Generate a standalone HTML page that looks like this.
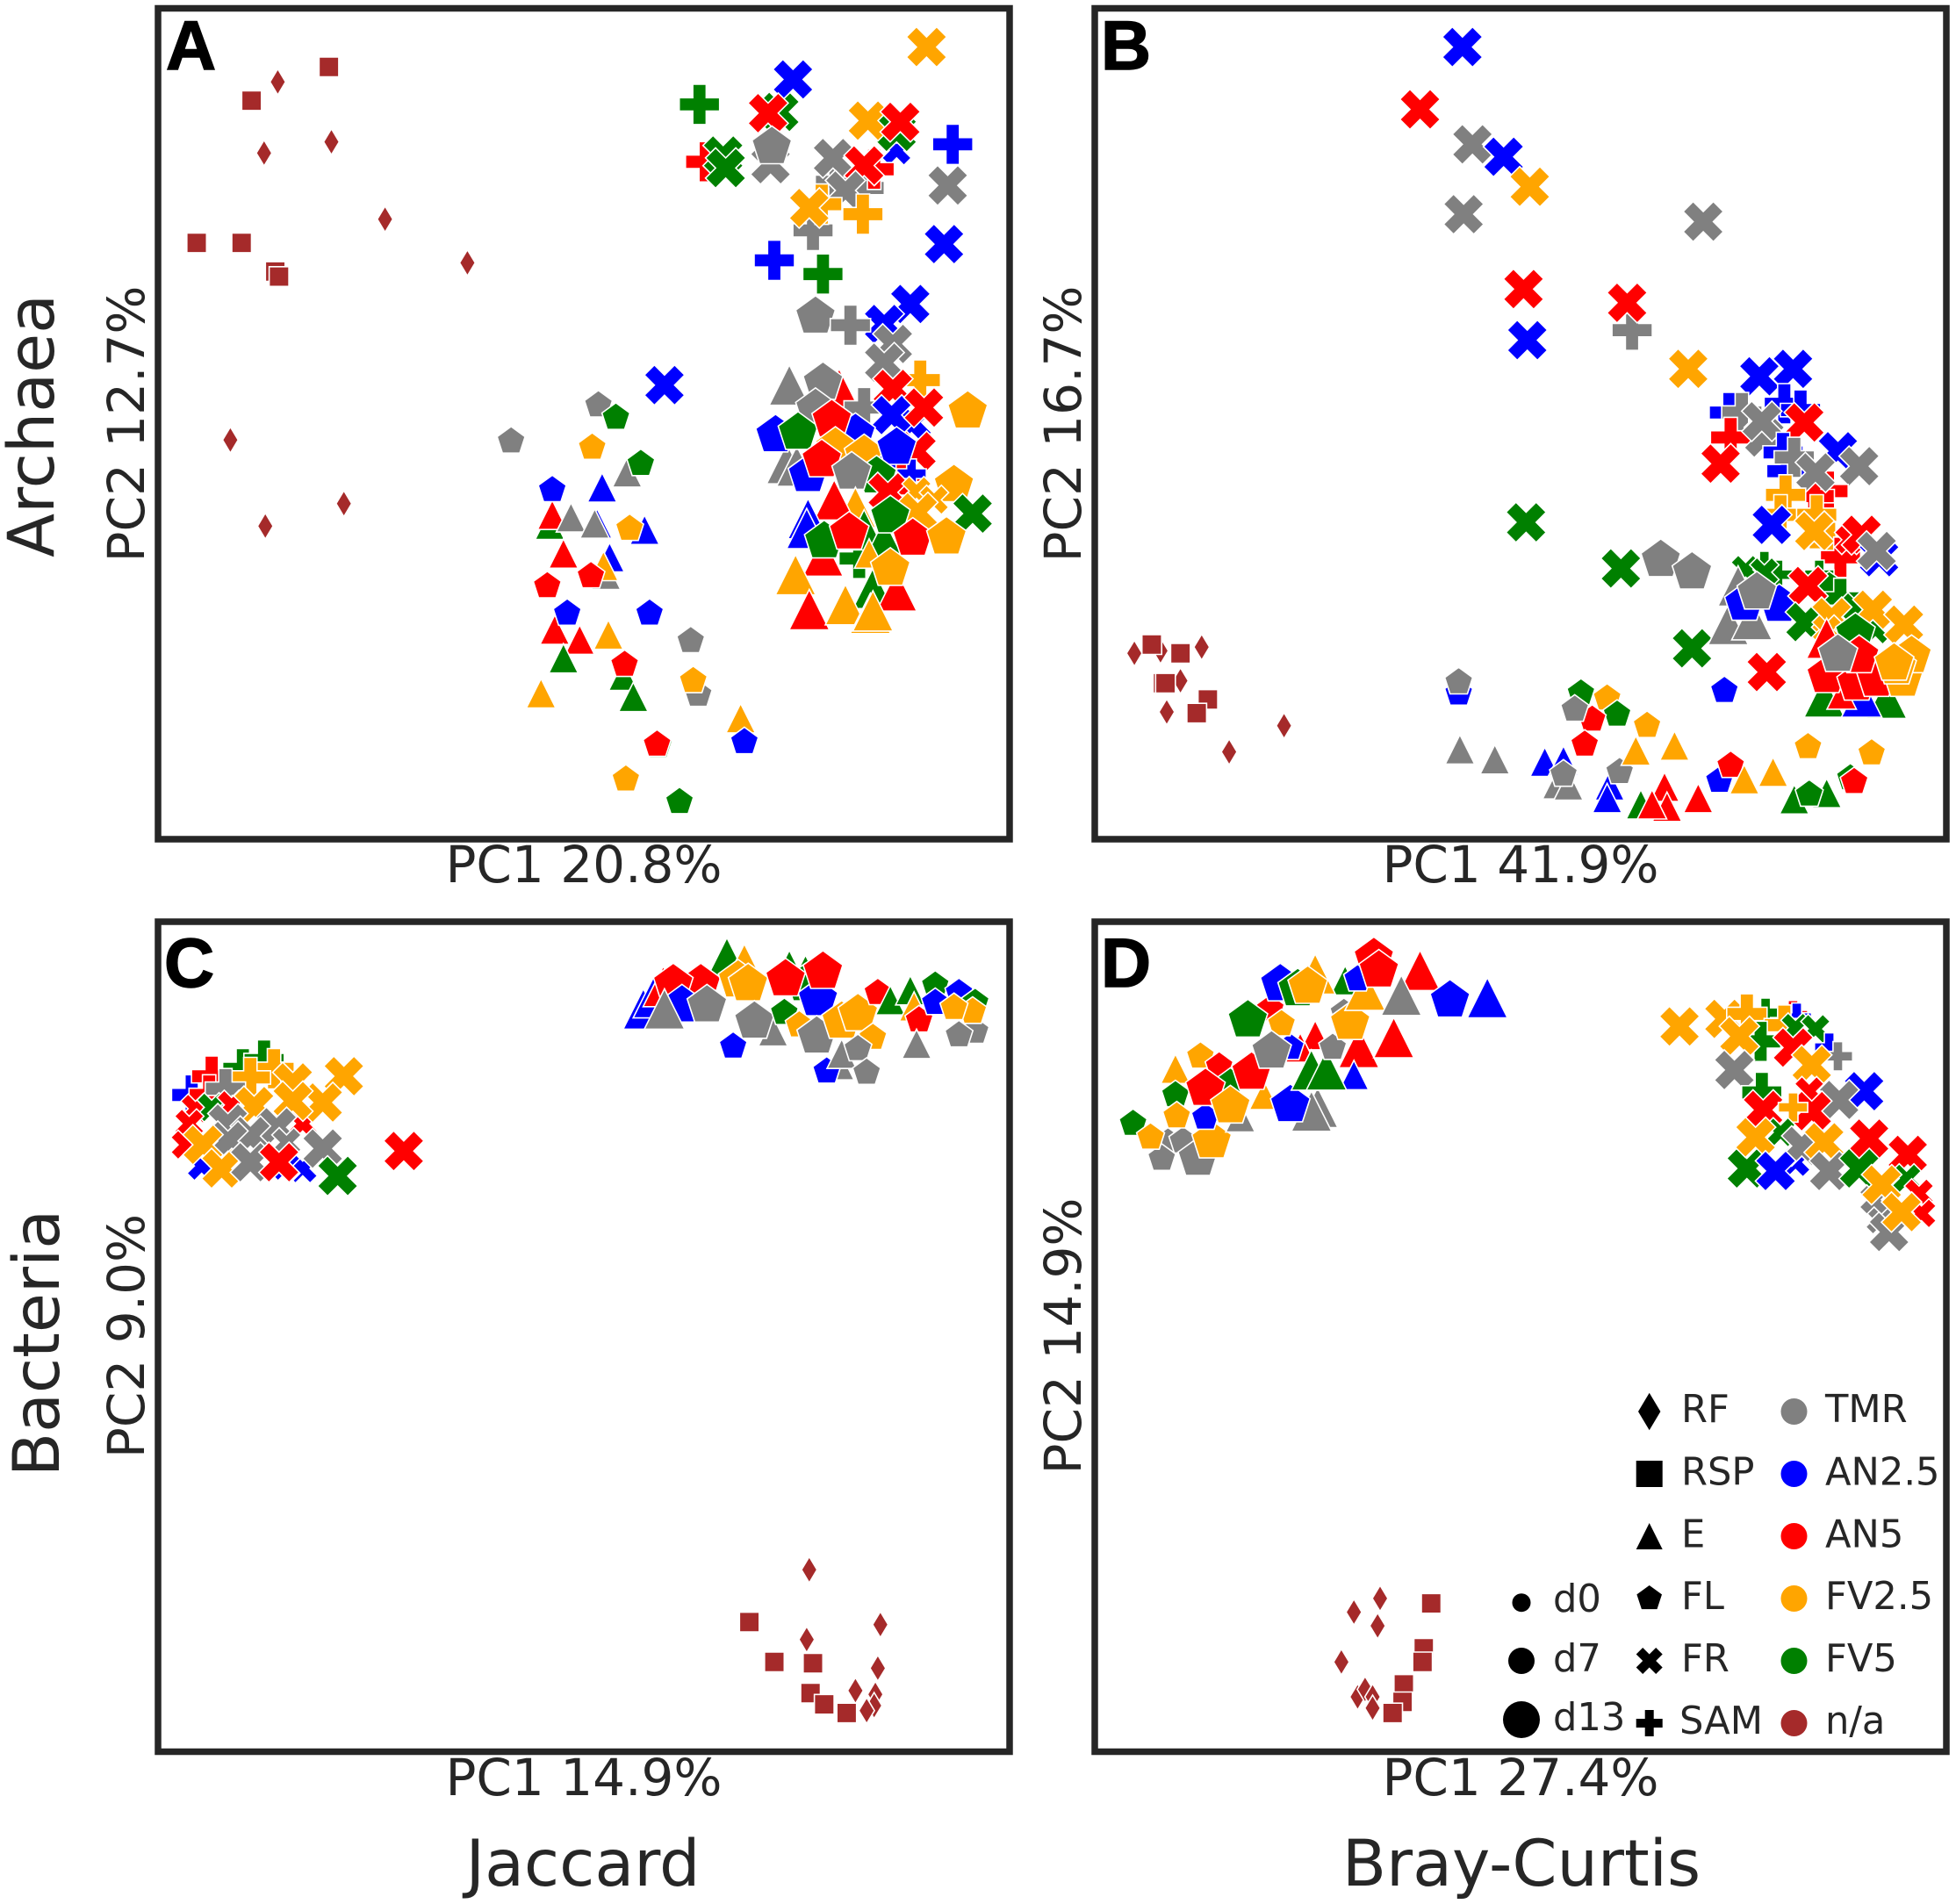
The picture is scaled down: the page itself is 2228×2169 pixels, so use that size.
<!DOCTYPE html>
<html lang="en">
<head>
<meta charset="utf-8">
<title>PCoA of Archaea and Bacteria communities</title>
<style>
html,body{margin:0;padding:0;background:#fff;}
svg{display:block;}
text{font-family:"DejaVu Sans","Liberation Sans",sans-serif;fill:#262626;}
.axis-label{font-size:58px;text-anchor:middle;}
.big-label{font-size:73.2px;text-anchor:middle;}
.panel-letter{font-family:"Liberation Sans",sans-serif;font-weight:700;font-size:79px;fill:#000;stroke:#000;stroke-width:1.5px;}
.legend-text{font-size:43.2px;}
</style>
</head>
<body>
<svg id="chart" xmlns="http://www.w3.org/2000/svg" width="2228" height="2169" viewBox="0 0 2228 2169">
  <rect x="0" y="0" width="2228" height="2169" fill="#fff"/>
  <g id="marks"></g>
  <g fill="none" stroke="#262626" stroke-width="7.5">
    <rect x="180" y="9.5" width="970" height="946.5"/>
    <rect x="1247" y="9.5" width="970" height="946.5"/>
    <rect x="180" y="1050" width="970" height="945.5"/>
    <rect x="1247" y="1050" width="970" height="945.5"/>
  </g>
  <text class="panel-letter" x="189" y="79">A</text>
  <text class="panel-letter" x="1254" y="79">B</text>
  <text class="panel-letter" x="187" y="1124">C</text>
  <text class="panel-letter" x="1254" y="1124">D</text>

  <text class="axis-label" x="665" y="1005">PC1 20.8%</text>
  <text class="axis-label" x="1732" y="1005">PC1 41.9%</text>
  <text class="axis-label" x="665" y="2045">PC1 14.9%</text>
  <text class="axis-label" x="1732" y="2045">PC1 27.4%</text>

  <text class="axis-label" transform="translate(164 483) rotate(-90)">PC2 12.7%</text>
  <text class="axis-label" transform="translate(1231 483) rotate(-90)">PC2 16.7%</text>
  <text class="axis-label" transform="translate(164 1522) rotate(-90)">PC2 9.0%</text>
  <text class="axis-label" transform="translate(1231 1522) rotate(-90)">PC2 14.9%</text>

  <text class="big-label" transform="translate(61 485) rotate(-90)">Archaea</text>
  <text class="big-label" transform="translate(67 1530) rotate(-90)">Bacteria</text>
  <text class="big-label" x="664" y="2148">Jaccard</text>
  <text class="big-label" x="1733" y="2148">Bray-Curtis</text>

  <g id="legend"></g>
</svg>
<script>
// Categories
const markerTypes = ['RF','RSP','E','FL','FR','SAM'];
const dietTypes = ['TMR','AN2.5','AN5','FV2.5','FV5','n/a'];
const dayTypes = [0,7,13];
const dietColors = {'TMR':'#808080','AN2.5':'#0000ff','AN5':'#ff0000','FV2.5':'#ffa500','FV5':'#008000','n/a':'#a52a2a'};

// Samples: [fraction, diet, day, PC1 score, PC2 score] — scores in arbitrary units
const samplesA = [
['RSP','n/a',0,137,619],['RSP','n/a',0,75,592],['RSP','n/a',0,31,478],['RSP','n/a',0,67,478],['RSP','n/a',0,94,455],['RSP','n/a',0,97,451],
['RF','n/a',0,96,607],['RF','n/a',0,139,559],['RF','n/a',0,85,550],['RF','n/a',0,182,497],['RF','n/a',0,248,462],['RF','n/a',0,58,320],['RF','n/a',0,149,269],['RF','n/a',0,86,251],
['E','TMR',7,376,294],['FL','TMR',7,283,319],['FL','TMR',7,353,348],['FL','FV5',7,367,338],['FL','FV2.5',7,348,314],['FL','FV5',7,387,301],
['E','AN2.5',7,356,282],['E','FV5',7,314,252],['E','AN5',7,316,260],['E','TMR',7,331,258],['E','AN2.5',7,352,253],['E','TMR',7,350,253],['E','AN2.5',7,390,248],['E','AN5',7,325,229],['E','AN2.5',7,362,226],['E','TMR',7,359,212],['E','FV2.5',7,357,219],['E','AN5',7,318,168],['E','AN5',7,338,160],['E','FV2.5',7,361,164],['E','FV5',7,325,145],['E','FV5',7,373,131],['E','FV5',7,381,114],['E','FV2.5',7,307,117],['E','FV2.5',7,467,97],
['FL','AN2.5',7,316,280],['FL','FV2.5',7,378,249],['FL','AN5',7,347,211],['FL','AN5',7,312,203],['FL','AN2.5',7,328,181],['FL','AN2.5',7,394,181],['FL','TMR',7,427,159],['FL','AN5',7,374,140],['FL','TMR',7,433,116],['FL','FV2.5',7,429,127],['FL','FV5',7,401,75],['FL','AN5',7,400,76],['FL','AN2.5',7,470,78],['FL','FV2.5',7,375,48],['FL','FV5',7,418,30],
['FR','AN2.5',13,406,364],
['FR','FV2.5',13,616,635],['SAM','FV5',13,434,589],['FR','FV5',13,498,583],['FR','AN2.5',13,509,609],['FR','AN5',13,489,582],['FR','AN2.5',7,592,552],['FR','FV5',13,592,567],['FR','FV2.5',13,569,576],['FR','AN5',13,595,575],['SAM','AN2.5',13,637,557],['FR','TMR',13,491,541],['FL','TMR',13,492,555],['SAM','AN5',13,439,543],['FR','FV5',13,453,548],['FR','FV5',13,455,538],['SAM','TMR',13,566,522],['SAM','TMR',13,543,527],['SAM','AN5',13,574,537],['FR','TMR',13,541,546],['FR','AN5',13,566,540],['FR','TMR',13,551,520],['FR','TMR',13,633,524],['SAM','TMR',13,525,488],['SAM','FV2.5',13,532,509],['FR','FV2.5',13,522,506],['SAM','FV2.5',13,565,501],['FR','AN2.5',13,630,477],['SAM','AN2.5',13,494,464],['SAM','FV5',13,533,453],['FR','AN2.5',13,603,429],['FR','AN2.5',13,582,413],['FL','TMR',13,527,419],['SAM','TMR',13,555,412],
['E','AN5',13,546,361],['E','TMR',13,506,364],['FL','TMR',13,533,366],['FR','TMR',13,589,397],['FR','TMR',13,582,382],['SAM','FV2.5',13,611,368],['SAM','TMR',13,566,346],['FR','AN5',13,589,361],['FR','AN2.5',13,604,334],['FR','AN5',13,608,311],['FR','AN2.5',13,588,340],['FR','AN5',13,614,346],['FL','FV2.5',13,649,343],['E','TMR',13,504,301],['E','TMR',13,512,299],['FL','TMR',13,527,345],['FL','AN2.5',13,495,324],['FL','FV5',13,513,326],['FL','AN2.5',13,559,325],['FL','AN5',13,540,336],['FL','FV2.5',13,543,314],['FL','FV2.5',13,566,308],['E','AN2.5',13,585,303],['SAM','AN5',13,597,292],['SAM','AN2.5',7,604,293],['FL','AN2.5',13,592,314],['FL','AN2.5',13,521,292],['FL','AN5',13,532,304],['FL','FV5',13,576,291],['FL','TMR',13,556,294],['FR','AN5',13,585,278],['FL','FV2.5',13,638,284],['FR','FV2.5',7,608,279],['FR','FV2.5',7,622,272],['FR','FV2.5',13,609,262],['FR','FV5',13,653,261],['E','FV2.5',13,559,266],['E','AN5',13,542,272],['E','AN2.5',13,521,257],['E','AN2.5',13,520,249],['E','AN5',13,533,227],['SAM','FV5',13,562,225],['E','FV5',13,566,248],['E','FV5',13,582,240],['FL','FV5',13,534,239],['FL','AN5',13,554,246],['FL','FV5',13,587,259],['FL','AN5',13,605,241],['FL','FV2.5',13,632,242],['E','FV5',13,573,201],['E','AN5',13,592,199],['E','FV2.5',7,570,229],['FL','FV2.5',13,587,217],['E','FV2.5',13,511,212],['E','AN5',13,522,184],['E','FV2.5',13,551,188],['E','FV2.5',13,571,181],['E','FV2.5',13,573,183]
];

const samplesB = [
['RF','n/a',0,31,149],['RF','n/a',0,52,151],['RF','n/a',0,85,154],['RF','n/a',0,68,127],['RF','n/a',0,57,102],['RF','n/a',0,151,91],['RF','n/a',0,107,70],
['RSP','n/a',0,45,156],['RSP','n/a',0,68,149],['RSP','n/a',0,54,125],['RSP','n/a',0,56,125],['RSP','n/a',0,90,112],['RSP','n/a',0,81,101],
['FR','AN2.5',13,294,635],['FR','AN5',13,260,585],['FR','TMR',13,302,557],['FR','AN2.5',13,327,547],['FR','FV2.5',13,348,523],['FR','TMR',13,295,501],['FR','TMR',13,487,495],['FR','AN5',13,343,441],['SAM','TMR',13,430,408],['FR','AN5',13,426,430],['FR','AN2.5',13,346,400],['FR','FV2.5',13,475,377],['FR','AN2.5',13,532,371],['FR','AN2.5',13,559,377],['FR','FV5',13,345,254],['FR','FV5',13,421,217],['FL','TMR',13,453,224],['FL','TMR',13,478,214],['FR','FV5',13,478,153],['FR','AN5',13,538,134],['FL','AN2.5',7,504,119],
['SAM','AN2.5',13,508,342],['SAM','AN2.5',13,552,349],['SAM','AN2.5',13,565,344],['SAM','TMR',13,518,342],['SAM','AN5',13,509,322],['FR','AN5',13,501,301],['FR','TMR',13,536,322],['FR','TMR',13,534,335],['FR','AN5',13,568,334],['SAM','AN2.5',13,551,310],['FR','AN2.5',13,595,311],['SAM','AN2.5',13,554,295],['SAM','TMR',13,560,306],['FR','TMR',13,612,299],['SAM','AN5',13,587,279],['SAM','AN5',13,576,275],['FR','TMR',13,577,294],['SAM','FV2.5',13,553,276],['SAM','FV2.5',13,549,260],['SAM','FV2.5',13,578,260],['FR','AN2.5',13,542,252],['SAM','FV2.5',13,588,238],['FR','FV2.5',13,576,247],['SAM','AN5',13,597,226],['FR','AN5',7,604,240],['FR','AN5',13,614,244],['FR','AN2.5',13,628,226],['FR','TMR',13,626,231],
['SAM','FV5',7,536,219],['FR','FV5',7,521,216],['SAM','FV5',7,547,212],['FR','FV5',7,536,214],['E','TMR',13,515,203],['E','TMR',13,507,172],['E','TMR',13,526,176],['FL','AN2.5',13,520,189],['FL','AN2.5',13,548,188],['FL','TMR',13,530,198],['SAM','FV5',7,580,212],['FL','FV5',7,588,203],['SAM','FV5',13,597,193],['FR','AN5',13,571,203],['FR','FV5',13,569,174],['FR','FV5',7,609,186],['FR','FV2.5',13,590,178],['FR','FV2.5',7,586,168],['FR','FV5',7,625,168],['FR','FV2.5',13,623,184],['FR','FV2.5',13,648,172],['FL','FV5',13,609,165],['E','AN5',13,586,161],['E','FV5',13,584,114],['E','FV5',13,634,113],['E','AN2.5',13,614,114],['E','AN5',7,598,116],['FL','AN5',13,586,131],['FL','AN5',13,610,125],['FL','AN5',13,626,128],['FL','AN5',13,612,147],['FL','TMR',13,595,148],['FL','FV2.5',13,647,128],['FL','FV2.5',13,654,147],['FL','FV2.5',13,642,138],['FL','FV2.5',13,640,141],
['FL','AN2.5',7,291,117],['FL','TMR',7,291,126],['FL','FV5',7,389,117],['FL','FV2.5',7,410,113],['FL','FV5',7,418,100],['FL','AN5',7,398,96],['FL','TMR',7,384,104],['FL','FV2.5',7,442,91],['FL','AN5',7,392,76],['FL','FV2.5',7,571,74],['FL','FV2.5',7,622,69],['FL','AN2.5',7,500,47],['FL','AN5',7,509,59],
['E','TMR',7,292,72],['E','TMR',7,320,64],['E','AN2.5',7,360,62],['E','AN2.5',7,375,63],['E','TMR',7,370,44],['E','TMR',7,379,43],['FL','TMR',7,375,52],['E','AN2.5',7,412,43],['E','AN2.5',7,410,33],['FL','TMR',7,420,54],['E','FV2.5',7,433,71],['E','FV2.5',7,464,75],['E','FV5',7,437,28],['E','AN5',7,456,42],['E','AN5',7,458,26],['E','AN5',7,446,28],['E','AN5',7,483,33],['E','FV2.5',7,520,48],['E','FV2.5',7,543,54],['E','FV5',7,560,32],['E','FV5',7,586,37],['FL','FV5',7,572,36],['FL','FV5',7,605,49],['FL','AN5',7,608,46]
];

const samplesC = [
['E','AN2.5',13,389,596],['E','AN2.5',13,397,605],['E','AN5',13,405,614],['E','FV5',13,456,637],['E','FV2.5',13,470,632],['E','FV5',13,506,627],['E','FV5',13,519,623],['FL','AN5',13,435,616],['FL','AN5',13,413,616],['FL','AN2.5',13,420,599],['E','TMR',13,406,596],['FL','TMR',13,440,599],['FL','FV5',13,519,616],['FL','FV2.5',13,465,619],['FL','FV2.5',13,473,616],['FL','AN2.5',13,529,604],['FL','AN5',13,503,620],['FL','AN5',13,533,626],['E','TMR',7,493,578],['FL','TMR',13,478,586],['FL','FV5',7,502,593],['FL','FV2.5',7,514,583],['FL','TMR',13,528,574],['FL','FV2.5',13,548,586],['FL','FV2.5',13,561,592],['FL','AN5',7,577,609],['FL','FV2.5',7,573,573],['FL','AN2.5',7,461,566],['E','TMR',0,550,547],['FL','AN2.5',7,536,546],['E','TMR',7,548,560],['FL','TMR',7,561,564],['FL','TMR',7,568,545],['E','FV5',7,587,603],['E','FV5',7,603,611],['E','FV2.5',7,606,598],['FL','AN5',7,610,587],['E','TMR',7,608,568],['FL','FV5',7,623,615],['FL','AN2.5',7,623,601],['FL','AN2.5',7,642,609],['FL','FV5',7,655,601],['FL','TMR',7,655,578],['FL','TMR',7,642,575],['FL','FV2.5',7,653,594],['FL','FV2.5',7,638,597],
['SAM','AN2.5',13,27,527],['SAM','FV5',13,68,548],['SAM','FV5',13,85,555],['SAM','AN5',13,43,542],['SAM','FV2.5',13,93,548],['SAM','FV2.5',13,74,541],['FR','FV2.5',13,108,537],['FR','FV2.5',13,149,542],['SAM','AN5',13,41,527],['FR','AN5',7,30,516],['SAM','TMR',13,54,532],['FR','FV5',7,43,517],['FR','AN5',7,59,519],['FR','AN5',7,25,504],['FR','AN5',7,116,504],['FR','FV2.5',13,132,521],['FR','FV2.5',13,77,518],['FR','FV2.5',13,108,522],['FR','AN5',7,22,487],['FR','AN2.5',7,35,470],['FR','TMR',13,56,504],['FR','TMR',13,95,501],['FR','TMR',13,74,494],['FR','TMR',13,56,490],['FR','TMR',7,103,489],['FR','FV2.5',13,36,487],['FR','AN2.5',7,116,468],['FR','AN2.5',7,102,470],['FR','TMR',13,132,484],['FR','FV2.5',13,51,468],['FR','TMR',13,74,473],['FR','AN5',13,97,473],['FR','FV5',13,144,462],['FR','AN5',13,197,482],
['RF','n/a',0,522,146],['RF','n/a',0,579,102],['RF','n/a',0,520,90],['RF','n/a',0,577,67],['RF','n/a',0,559,49],['RF','n/a',0,575,46],['RF','n/a',0,574,37],['RF','n/a',0,568,33],
['RSP','n/a',0,474,104],['RSP','n/a',0,494,72],['RSP','n/a',0,525,71],['RSP','n/a',0,523,47],['RSP','n/a',0,534,38],['RSP','n/a',0,552,31]
];

const samplesD = [
['FL','FV5',7,30,504],['FL','TMR',7,58,489],['FL','TMR',7,53,476],['FL','TMR',7,70,490],['FL','FV2.5',7,44,493],['FL','TMR',13,82,476],['FL','FV2.5',13,93,490],['E','FV2.5',7,64,548],['FL','FV2.5',7,84,558],['FL','FV5',7,64,527],['FL','AN2.5',7,88,509],['FL','FV2.5',7,65,510],['FL','AN5',7,99,550],['FL','FV5',7,108,537],['E','TMR',7,116,509],['FL','AN5',13,88,532],['E','FV2.5',7,135,527],['FL','AN5',13,125,545],['FL','FV2.5',13,108,518],['E','TMR',13,178,517],['E','TMR',13,173,514],['FL','AN2.5',13,156,519],['E','AN5',7,176,575],['E','AN5',7,164,565],['FL','AN2.5',7,156,565],['E','AN5',13,211,565],['E','AN2.5',7,207,543],['E','FV5',13,173,547],['E','FV5',13,185,547],['FL','TMR',7,190,565],['FL','AN5',7,140,596],['FL','FV5',13,122,587],['FL','FV2.5',7,149,584],['FL','TMR',13,141,562],['E','AN5',13,239,573],['E','FV5',7,200,619],['FL','TMR',7,199,593],['FL','FV2.5',13,204,585],['E','FV2.5',13,216,611],['E','FV2.5',13,176,624],['FL','AN2.5',13,148,616],['FL','FV5',13,162,612],['FL','FV2.5',13,170,614],['E','AN5',13,260,627],['FL','AN5',13,223,637],['FL','AN2.5',7,210,620],['FL','AN5',13,227,627],['E','TMR',13,245,607],['FL','AN2.5',13,284,603],['E','AN2.5',13,314,605],
['FR','FV2.5',13,468,582],['SAM','FV5',7,537,593],['SAM','AN5',7,559,591],['SAM','AN2.5',7,562,589],['FR','FV2.5',13,504,588],['SAM','FV2.5',13,522,592],['SAM','FV2.5',13,552,583],['SAM','FV5',13,533,570],['FR','FV2.5',13,516,574],['FR','FV5',7,561,581],['FR','FV5',7,577,580],['SAM','AN2.5',7,588,565],['SAM','TMR',7,595,558],['FR','AN5',13,559,565],['FR','FV2.5',13,574,551],['FR','AN2.5',13,616,530],['FR','TMR',13,512,547],['SAM','FV5',13,534,529],['FR','AN5',7,572,530],['FR','TMR',13,596,523],['FR','AN5',13,574,514],['FR','AN5',13,535,515],['SAM','FV2.5',7,559,517],['FR','FV5',7,549,497],['FR','AN2.5',7,561,473],['FR','TMR',13,566,486],['FR','AN2.5',7,522,465],['FR','FV5',13,522,468],['FR','FV2.5',13,529,493],['FR','AN2.5',13,545,466],['FR','FV2.5',13,584,489],['FR','AN5',13,620,492],['FR','AN5',13,651,479],['FR','TMR',13,588,466],['FR','FV5',7,650,460],['FR','FV5',13,612,468],['FR','AN5',7,660,448],['FR','AN5',7,662,432],['FR','TMR',7,629,427],['FR','TMR',7,624,443],['FR','FV2.5',13,630,455],['FR','TMR',13,636,417],['FR','FV2.5',13,646,433],
['RF','n/a',0,228,123],['RF','n/a',0,207,112],['RF','n/a',0,226,101],['RF','n/a',0,197,72],['RF','n/a',0,210,44],['RF','n/a',0,216,50],['RF','n/a',0,222,44],['RF','n/a',0,222,35],
['RSP','n/a',0,269,119],['RSP','n/a',0,263,83],['RSP','n/a',0,262,72],['RSP','n/a',0,247,54],['RSP','n/a',0,246,40],['RSP','n/a',0,238,31]
];

// Axis score ranges shared by all panels (no tick labels in the figure)
const pc1Domain = [0,684];
const pc2Domain = [0,666];

const SVG_NS = 'http://www.w3.org/2000/svg';
const marksLayer = document.getElementById('marks');
const legendLayer = document.getElementById('legend');

function linearScale(domain, range){
  return function(v){ return range[0] + (v - domain[0]) / (domain[1] - domain[0]) * (range[1] - range[0]); };
}
function legendDotSize(day){ return day === 0 ? 21 : (day === 7 ? 30 : 42); }
function markerSize(day, type){
  if (type === 'RF') { return 21; }
  if (day === 0) { return 22.5; }
  if (day === 7) { return 33.5; }
  return type === 'FL' ? 47.5 : 46;
}

function polygonPoints(type, cx, cy, s){
  var pts = [];
  var h = s / 2;
  if (type === 'RF') { var d = s * 0.707; pts = [[0,-d],[d*0.6,0],[0,d],[-d*0.6,0]]; }
  else if (type === 'RSP') { pts = [[-h,-h],[h,-h],[h,h],[-h,h]]; }
  else if (type === 'E') { pts = [[0,-h],[h,h],[-h,h]]; }
  else if (type === 'FL') {
    for (var i = 0; i < 5; i++) { var a = -Math.PI/2 + i * 2 * Math.PI / 5; pts.push([h*Math.cos(a), h*Math.sin(a)]); }
  }
  else if (type === 'FR') {
    var u = s / 4;
    pts = [[-u,-2*u],[0,-u],[u,-2*u],[2*u,-u],[u,0],[2*u,u],[u,2*u],[0,u],[-u,2*u],[-2*u,u],[-u,0],[-2*u,-u]];
  }
  else {
    var t = s / 6;
    pts = [[-t,-3*t],[t,-3*t],[t,-t],[3*t,-t],[3*t,t],[t,t],[t,3*t],[-t,3*t],[-t,t],[-3*t,t],[-3*t,-t],[-t,-t]];
  }
  return pts.map(function(p){ return (cx + p[0]).toFixed(1) + ',' + (cy + p[1]).toFixed(1); }).join(' ');
}

function slug(s){ return String(s).toLowerCase().replace(/[^a-z0-9]+/g,'-'); }

function drawPanel(panelName, rows, left, right, top, bottom){
  var xAxis = linearScale(pc1Domain, [left, right]);
  var yAxis = linearScale(pc2Domain, [bottom, top]);
  var group = document.createElementNS(SVG_NS, 'g');
  
  
  rows.forEach(function(row){
    var el = document.createElementNS(SVG_NS, 'polygon');
    el.setAttribute('points', polygonPoints(row[0], xAxis(row[3]), yAxis(row[4]), markerSize(row[2], row[0])));
    el.setAttribute('fill', dietColors[row[1]]);
    el.setAttribute('stroke', '#ffffff');
    el.setAttribute('stroke-width', '1.6');
    el.setAttribute('stroke-linejoin', 'miter');
    
    
    group.appendChild(el);
  });
  marksLayer.appendChild(group);
}

drawPanel('a', samplesA, 180, 1152, 9.5, 956);
drawPanel('b', samplesB, 1248, 2220, 9.5, 956);
drawPanel('c', samplesC, 180, 1152, 1050, 1995.5);
drawPanel('d', samplesD, 1248, 2220, 1050, 1995.5);

// Legend
const legendRowCenters = [1608,1679,1750,1821,1892,1963];
const legendDayCenters = [1825.7,1892,1959];
const legendDayBaselines = [1836,1904,1971];
const legendBaselines = [1620,1691.7,1762.5,1833,1904,1975];

function addLegendText(label, x, y, name){
  var t = document.createElementNS(SVG_NS, 'text');
  t.setAttribute('class', 'legend-text');
  t.setAttribute('x', x);
  t.setAttribute('y', y);
  
  
  t.textContent = label;
  legendLayer.appendChild(t);
}

markerTypes.forEach(function(m, i){
  var el = document.createElementNS(SVG_NS, 'polygon');
  el.setAttribute('points', polygonPoints(m, 1878.7, legendRowCenters[i], 30));
  el.setAttribute('fill', '#000');
  
  
  legendLayer.appendChild(el);
  addLegendText(m, m === 'SAM' ? 1913 : 1915, legendBaselines[i], 'legend-label-' + slug(m));
});

dietTypes.forEach(function(d, i){
  var c = document.createElementNS(SVG_NS, 'circle');
  c.setAttribute('cx', 2043.5);
  c.setAttribute('cy', legendRowCenters[i]);
  c.setAttribute('r', 15);
  c.setAttribute('fill', dietColors[d]);
  
  
  legendLayer.appendChild(c);
  addLegendText(d, 2079, legendBaselines[i], 'legend-label-' + slug(d));
});

dayTypes.forEach(function(day, i){
  var c = document.createElementNS(SVG_NS, 'circle');
  c.setAttribute('cx', 1733);
  c.setAttribute('cy', legendDayCenters[i]);
  c.setAttribute('r', legendDotSize(day) / 2);
  c.setAttribute('fill', '#000');
  
  
  legendLayer.appendChild(c);
  addLegendText('d' + day, 1769, legendDayBaselines[i], 'legend-label-d' + day);
});
</script>
</body>
</html>
